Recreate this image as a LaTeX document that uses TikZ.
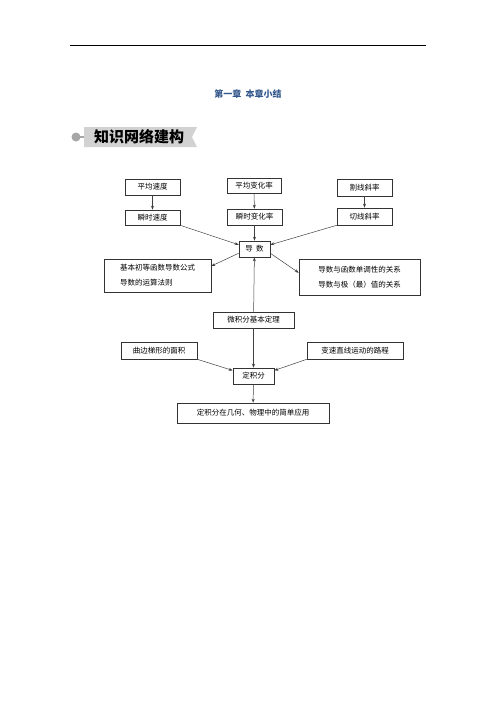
\documentclass[tikz,border=0pt]{standalone}
\usepackage{fontspec}
\newfontfamily\cjk{Noto Sans CJK SC}
\usepackage{tikz}
\usetikzlibrary{arrows.meta}
\definecolor{titleblue}{RGB}{52,88,140}

\begin{document}
\begin{tikzpicture}[x=1pt,y=-1pt,
  box/.style={draw=black!80,line width=0.6pt,inner sep=0pt,font=\cjk\fontsize{7.5}{15}\selectfont},
  arr/.style={draw=black!75,line width=0.5pt,-{Stealth[length=4pt,width=3pt]}}]
\useasboundingbox (0,0) rectangle (496,702);
\draw[line width=0.8pt] (70,45) -- (426,45);
\node[font=\cjk\bfseries\fontsize{9}{10}\selectfont,text=titleblue] (title) at (248,94) {第一章\ \ 本章小结};
\fill[gray!70] (76,137) circle (4.5);
\draw[gray!70,line width=1.2pt] (80,137) -- (84,137);
\fill[gray!35] (84,127) -- (197,127) -- (192,137) -- (197,147) -- (84,147) -- cycle;
\node[font=\cjk\bfseries\fontsize{15}{16}\selectfont] (banner) at (139,137) {知识网络建构};

\node[box,minimum width=55,minimum height=16] (pjsd) at (152.5,187) {平均速度};
\node[box,minimum width=54,minimum height=15] (pjbh) at (254,186) {平均变化率};
\node[box,minimum width=55,minimum height=17] (gxxl) at (364.5,187.5) {割线斜率};
\node[box,minimum width=55,minimum height=15] (sssd) at (152.5,217.5) {瞬时速度};
\node[box,minimum width=55,minimum height=16] (ssbh) at (254.5,217) {瞬时变化率};
\node[box,minimum width=55,minimum height=17] (qxxl) at (364.5,216.5) {切线斜率};
\node[box,minimum width=31,minimum height=16] (ds) at (254.5,249) {导\ \ 数};
\node[box,minimum width=107,minimum height=33,align=left] (jbgs) at (157.5,275.5) {基本初等函数导数公式\\导数的运算法则};
\node[box,minimum width=121,minimum height=36,align=center] (dsgx) at (359.5,277) {导数与函数单调性的关系\\导数与极（最）值的关系};
\node[box,minimum width=81,minimum height=16] (wjf) at (253.5,320) {微积分基本定理};
\node[box,minimum width=76,minimum height=17] (qbtx) at (159,350.5) {曲边梯形的面积};
\node[box,minimum width=96,minimum height=17] (bslc) at (355,350.5) {变速直线运动的路程};
\node[box,minimum width=41,minimum height=16] (djf) at (253.5,376) {定积分};
\node[box,minimum width=152,minimum height=20] (yy) at (253,413) {定积分在几何、物理中的简单应用};

\draw[arr] (pjsd) -- (sssd);
\draw[arr] (pjbh) -- (ssbh);
\draw[arr] (gxxl) -- (qxxl);
\draw[arr] (ssbh) -- (ds);
\draw[arr] (sssd.south east) -- (ds.165);
\draw[arr] (qxxl.south west) -- (ds.15);
\draw[arr] (ds.195) -- (jbgs.10);
\draw[arr] (ds.345) -- (dsgx.176);
\draw[arr] (wjf) -- (ds);
\draw[arr] (wjf) -- (djf);
\draw[arr] (qbtx.south east) -- (djf.165);
\draw[arr] (bslc.south west) -- (djf.15);
\draw[arr] (djf) -- (yy);
\end{tikzpicture}
\end{document}
